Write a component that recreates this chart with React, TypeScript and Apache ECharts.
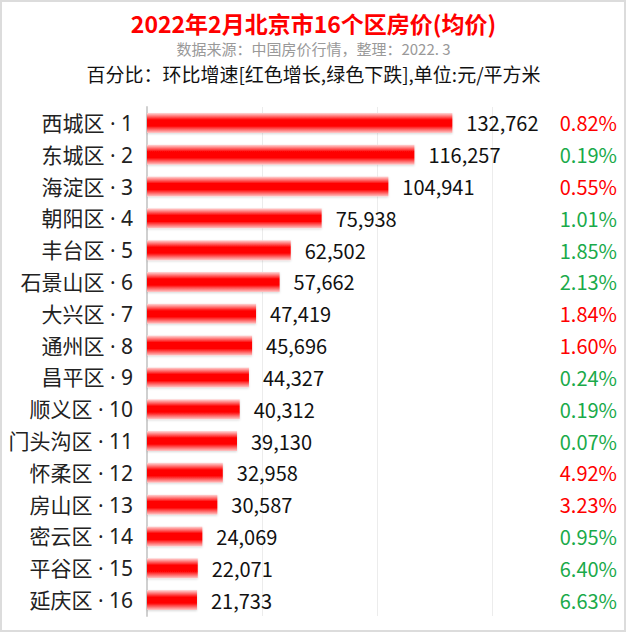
import React, { useEffect, useRef } from "react";
import * as echarts from "echarts";

const districts = ["西城区", "东城区", "海淀区", "朝阳区", "丰台区", "石景山区", "大兴区", "通州区", "昌平区", "顺义区", "门头沟区", "怀柔区", "房山区", "密云区", "平谷区", "延庆区"];
const prices = [132762, 116257, 104941, 75938, 62502, 57662, 47419, 45696, 44327, 40312, 39130, 32958, 30587, 24069, 22071, 21733];
const changes = ["0.82%", "0.19%", "0.55%", "1.01%", "1.85%", "2.13%", "1.84%", "1.60%", "0.24%", "0.19%", "0.07%", "4.92%", "3.23%", "0.95%", "6.40%", "6.63%"];
const rising = [true, false, true, false, false, false, true, true, false, false, false, true, true, false, false, false];
const xTicks = { min: 0, max: 150000, interval: 50000 };

const FONT = "'Noto Sans CJK SC', 'Noto Sans', sans-serif";
const LFONT = "'Noto Sans', 'Noto Sans CJK SC', sans-serif";

export default function App() {
  const ref = useRef<HTMLDivElement>(null);
  useEffect(() => {
    if (!ref.current) return;
    const chart = echarts.init(ref.current, null, { renderer: "svg" });
    const cats = districts.map((d, i) => `${d} · ${i + 1}`);
    chart.setOption({
      animation: false,
      backgroundColor: "#ffffff",
      textStyle: { fontFamily: FONT },
      title: [
        {
          text: "2022年2月北京市16个区房价(均价)",
          left: "center",
          top: 10,
          padding: 0,
          textStyle: { color: "#ff0000", fontSize: 23, fontWeight: "bold", fontFamily: FONT, lineHeight: 26 },
        },
        {
          text: "数据来源：中国房价行情，整理：2022. 3",
          left: "center",
          top: 40,
          padding: 0,
          textStyle: { color: "#999999", fontSize: 15, fontWeight: "normal", fontFamily: FONT, lineHeight: 17 },
        },
        {
          text: "百分比：环比增速[红色增长,绿色下跌],单位:元/平方米",
          left: "center",
          top: 61,
          padding: 0,
          textStyle: { color: "#111111", fontSize: 19, fontWeight: "normal", fontFamily: FONT, lineHeight: 24 },
        },
      ],
      graphic: [
        {
          type: "rect",
          shape: { x: 1, y: 1, width: 624, height: 630 },
          style: { fill: "none", stroke: "#dcdcdc", lineWidth: 2 },
          z: 100,
        },
      ],
      grid: { left: 147, right: 135, top: 107, bottom: 20, containLabel: false },
      xAxis: {
        type: "value",
        min: xTicks.min,
        max: xTicks.max,
        interval: xTicks.interval,
        axisLabel: { show: false },
        axisLine: { show: false },
        axisTick: { show: false },
        splitLine: { show: true, lineStyle: { color: "#ececec", width: 1 } },
      },
      yAxis: [
        {
          type: "category",
          data: cats,
          inverse: true,
          axisLine: { show: true, lineStyle: { color: "#d0d0d0", width: 2 } },
          axisTick: { show: false },
          axisLabel: { color: "#222222", fontSize: 21, margin: 14, fontFamily: LFONT },
        },
        {
          type: "category",
          data: changes,
          inverse: true,
          position: "right",
          axisLine: { show: false },
          axisTick: { show: false },
          axisLabel: {
            align: "right",
            margin: 125,
            fontSize: 20,
            fontFamily: FONT,
            formatter: (v: string, i: number) => (rising[i] ? `{r|${v}}` : `{g|${v}}`),
            rich: {
              r: { color: "#ff0000", fontSize: 20, fontFamily: FONT },
              g: { color: "#1aaa4a", fontSize: 20, fontFamily: FONT },
            },
          },
        },
      ],
      series: [
        {
          type: "bar",
          data: prices,
          barWidth: 20,
          yAxisIndex: 0,
          itemStyle: {
            color: new echarts.graphic.LinearGradient(0, 0, 0, 1, [
              { offset: 0, color: "#ffdada" },
              { offset: 0.35, color: "#ff0000" },
              { offset: 0.65, color: "#ff0000" },
              { offset: 1, color: "#ffc8c8" },
            ]),
            shadowColor: "rgba(0,0,0,0.15)",
            shadowBlur: 2,
            shadowOffsetY: 1,
          },
          label: {
            show: true,
            position: "right",
            distance: 14,
            color: "#111111",
            fontSize: 20,
            fontFamily: FONT,
            formatter: (p: any) => Number(p.value).toLocaleString("en-US"),
          },
        },
      ],
    });
    return () => chart.dispose();
  }, []);
  return (
    <div
      ref={ref}
      style={{ position: "fixed", left: 0, top: 0, width: 627, height: 636 }}
    />
  );
}
